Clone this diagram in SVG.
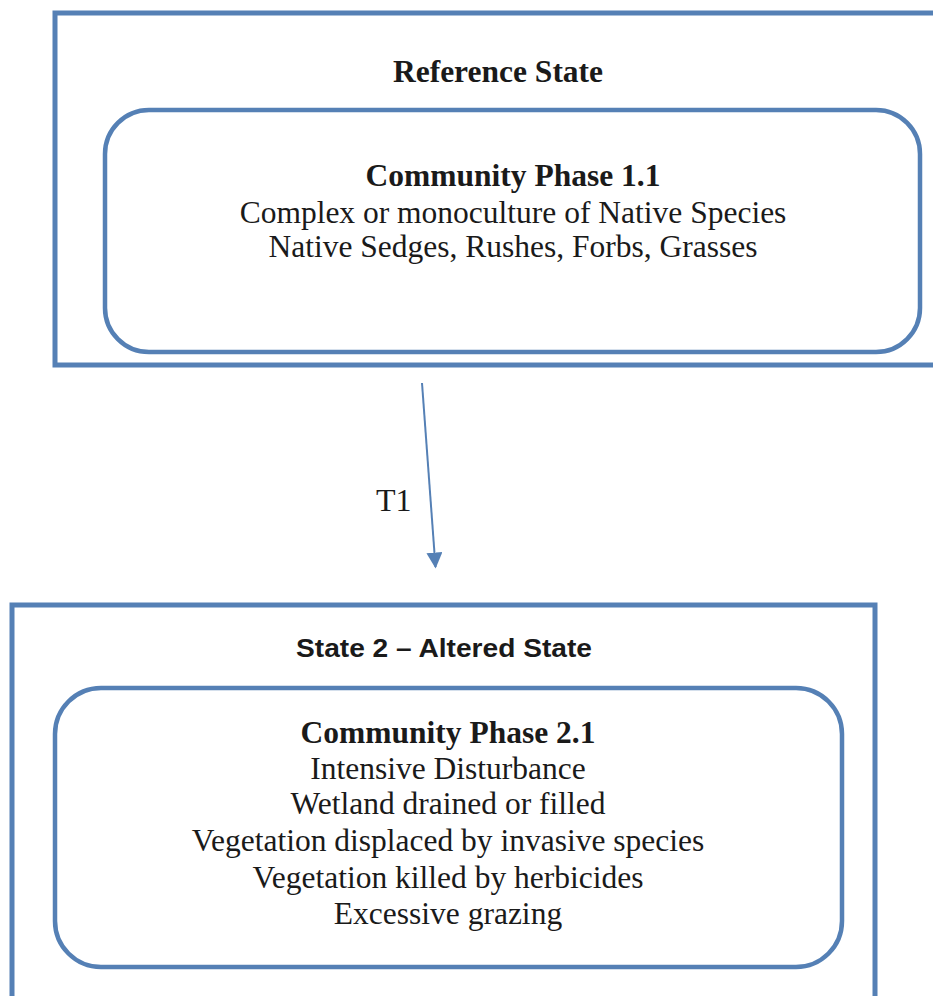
<svg xmlns="http://www.w3.org/2000/svg" width="933" height="996" viewBox="0 0 933 996">
<style>
.box{fill:none;stroke:#5580b5;stroke-width:5}
.phase{fill:none;stroke:#5580b5;stroke-width:4.5}
.t{font-family:"Liberation Serif","Times New Roman",serif;font-size:31.5px;fill:#1a1a1a;text-anchor:middle}
.b{font-weight:bold}
.s{font-family:"Liberation Sans",Arial,sans-serif;font-size:26px;font-weight:bold;fill:#1a1a1a;text-anchor:middle}
.conn{stroke:#5580b5;stroke-width:2;fill:none}
.lbl{font-family:"Liberation Serif","Times New Roman",serif;font-size:32px;fill:#1a1a1a;text-anchor:start}
</style>
<defs>
<marker id="ah" viewBox="0 0 10 10" refX="9" refY="5" markerWidth="16" markerHeight="16" markerUnits="userSpaceOnUse" orient="auto">
<path d="M0,0 L10,5 L0,10 z" fill="#5580b5"/>
</marker>
</defs>
<rect width="933" height="996" fill="#ffffff"/>
<g id="reference-state">
<rect class="box" x="55" y="13" width="890" height="352"/>
<text class="t b" x="498" y="82">Reference State</text>
</g>
<g id="phase-1-1">
<rect class="phase" x="105" y="110" width="815" height="242" rx="44" ry="44"/>
<text class="t b" x="513" y="186">Community Phase 1.1</text>
<text class="t" x="513" y="223">Complex or monoculture of Native Species</text>
<text class="t" x="513" y="257">Native Sedges, Rushes, Forbs, Grasses</text>
</g>
<g id="state-2">
<rect class="box" x="12" y="605" width="863" height="420"/>
<text class="s" x="444" y="657" textLength="296" lengthAdjust="spacingAndGlyphs">State 2 – Altered State</text>
</g>
<g id="phase-2-1">
<rect class="phase" x="55" y="688" width="787" height="279" rx="46" ry="46"/>
<text class="t b" x="448" y="743">Community Phase 2.1</text>
<text class="t" x="448" y="779">Intensive Disturbance</text>
<text class="t" x="448" y="814">Wetland drained or filled</text>
<text class="t" x="448" y="851">Vegetation displaced by invasive species</text>
<text class="t" x="448" y="888">Vegetation killed by herbicides</text>
<text class="t" x="448" y="924">Excessive grazing</text>
</g>
<g id="connectors">
<g id="t1">
<path class="conn" d="M422,383 L435.5,567" marker-end="url(#ah)"/>
<text class="lbl" x="376" y="511">T1</text>
</g>
</g>
</svg>
